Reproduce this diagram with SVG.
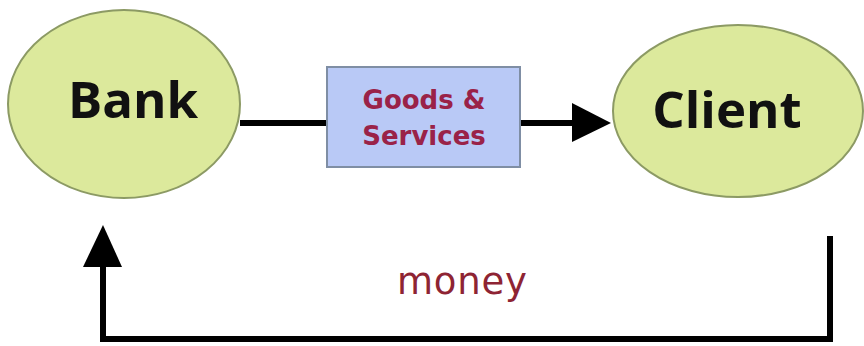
<svg xmlns="http://www.w3.org/2000/svg" width="864" height="346" viewBox="0 0 864 346">
<style>
.ell{fill:#dce99c;stroke:#8c9a64;stroke-width:2}
.big{font-family:"Open Sans","DejaVu Sans",sans-serif;font-weight:bold;font-size:51px;fill:#111;text-anchor:middle}
.box{fill:#b9c9f6;stroke:#7f8ea4;stroke-width:2}
.lbl{font-family:"DejaVu Sans",sans-serif;font-weight:bold;font-size:26px;fill:#9a2248;text-anchor:middle}
.mon{font-family:"DejaVu Sans",sans-serif;font-size:37px;fill:#8e2433;text-anchor:middle}
.ln{fill:none;stroke:#000;stroke-width:6}
</style>
<rect width="864" height="346" fill="#fff"/>
<g id="connectors">
<line class="ln" x1="240" y1="123" x2="328" y2="123"/>
<line class="ln" x1="520" y1="123" x2="575" y2="123"/>
<polygon points="572,103 611,123 572,142" fill="#000"/>
<polyline class="ln" points="830,236 830,339 103,339 103,262" stroke-width="8"/>
<polygon points="83,267 103,225 122,267" fill="#000"/>
<text class="mon" x="462" y="294" textLength="130">money</text>
</g>
<g id="bank">
<ellipse class="ell" cx="124" cy="104" rx="116" ry="94"/>
<text class="big" x="133" y="118">Bank</text>
</g>
<g id="goods">
<rect class="box" x="327" y="67" width="193" height="100"/>
<text class="lbl" x="424" y="109">Goods &amp;</text>
<text class="lbl" x="424" y="145">Services</text>
</g>
<g id="client">
<ellipse class="ell" cx="738" cy="111" rx="125" ry="86"/>
<text class="big" x="727" y="128">Client</text>
</g>
</svg>
